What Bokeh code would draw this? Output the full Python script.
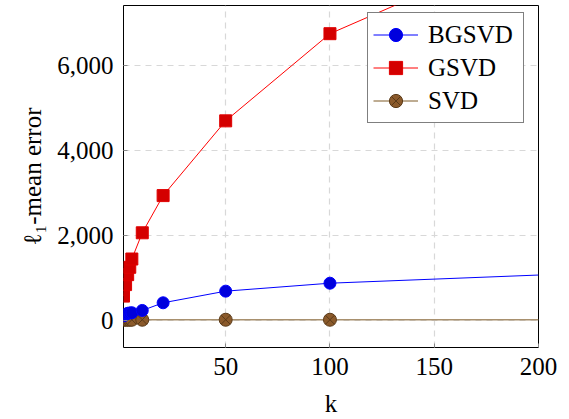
from bokeh.plotting import figure
from bokeh.models import Range1d, FixedTicker, NumeralTickFormatter, Legend, LegendItem, ColumnDataSource
from bokeh.embed import file_html
from bokeh.resources import INLINE

# data
k_bgsvd = [1, 2, 3, 4, 5, 10, 20, 50, 100, 200]
bgsvd = [100, 140, 160, 170, 175, 229, 409, 683, 870, 1062]
k_gsvd = [1, 2, 3, 4, 5, 10, 20, 50, 100, 200]
gsvd = [566, 837, 1071, 1244, 1439, 2056, 2931, 4690, 6741, 8880]
k_svd = [1, 2, 3, 4, 5, 10, 50, 100, 200]
svd = [10, 10, 10, 10, 10, 10, 10, 10, 10]
x_ticks = [50, 100, 150, 200]
y_ticks = [0, 2000, 4000, 6000]

FONT = "Liberation Serif"

p = figure(width=569, height=419, output_backend="svg", toolbar_location=None,
           x_range=Range1d(1, 200), y_range=Range1d(-643, 7404),
           min_border_left=123, min_border_right=31, min_border_top=5, min_border_bottom=70)

p.outline_line_color = "black"
p.outline_line_width = 1
p.background_fill_color = "white"

for ax in (p.xaxis[0], p.yaxis[0]):
    ax.axis_line_color = None
    ax.major_tick_in = 4
    ax.major_tick_out = 0
    ax.major_tick_line_color = "#888888"
    ax.minor_tick_line_color = None
    ax.major_label_text_font = FONT
    ax.major_label_text_font_size = "25px"
    ax.major_label_text_color = "black"
    ax.axis_label_text_font = FONT
    ax.axis_label_text_font_size = "25px"
    ax.axis_label_text_font_style = "normal"
    ax.axis_label_text_color = "black"

p.xaxis.ticker = FixedTicker(ticks=x_ticks)
p.yaxis.ticker = FixedTicker(ticks=y_ticks)
p.yaxis.formatter = NumeralTickFormatter(format="0,0")
p.xaxis.axis_label = "k"
p.yaxis.axis_label = "ℓ₁-mean error"
p.xaxis.major_label_standoff = 10
p.yaxis.major_label_standoff = 10
p.xaxis.axis_label_standoff = 12
p.yaxis.axis_label_standoff = 8

for g in (p.xgrid[0], p.ygrid[0]):
    g.grid_line_color = "#d8d8d8"
    g.grid_line_dash = "6 5"
    g.grid_line_width = 1.2
p.xgrid.ticker = FixedTicker(ticks=x_ticks)
p.ygrid.ticker = FixedTicker(ticks=y_ticks)

# marker sources (points within view, not on the right edge)
bg_m = ColumnDataSource(dict(x=k_bgsvd[:-1], y=bgsvd[:-1]))
gs_m = ColumnDataSource(dict(x=k_gsvd[:-1], y=gsvd[:-1]))
sv_m = ColumnDataSource(dict(x=k_svd[:-1], y=svd[:-1]))

SVD_LINE = "#a8906e"
l3 = p.line(k_svd, svd, line_color=SVD_LINE, line_width=1.6)
m3 = p.scatter("x", "y", source=sv_m, marker="circle_x", size=13,
               fill_color="#8b5a2b", line_color="#5a3a18", line_width=1)
l2 = p.line(k_gsvd, gsvd, line_color="#ff0000", line_width=1)
m2 = p.scatter("x", "y", source=gs_m, marker="square", size=12,
               fill_color="#d40000", line_color="#e00000", line_width=1)
l1 = p.line(k_bgsvd, bgsvd, line_color="#0000ff", line_width=1)
m1 = p.scatter("x", "y", source=bg_m, marker="circle", size=12,
               fill_color="#0000dd", line_color="#0000ff", line_width=1)

legend = Legend(items=[
    LegendItem(label="BGSVD", renderers=[l1, m1]),
    LegendItem(label="GSVD", renderers=[l2, m2]),
    LegendItem(label="SVD", renderers=[l3, m3]),
], location=(244, 224))
legend.label_text_font = FONT
legend.label_text_font_size = "25px"
legend.label_text_color = "black"
legend.glyph_width = 45
legend.glyph_height = 33
legend.label_height = 33
legend.label_width = 90
legend.label_standoff = 10
legend.spacing = 0
legend.padding = 5
legend.margin = 0
legend.border_line_color = "black"
legend.border_line_width = 1.2
legend.background_fill_alpha = 1
p.add_layout(legend)

open("out.html", "w").write(file_html(p, INLINE))
